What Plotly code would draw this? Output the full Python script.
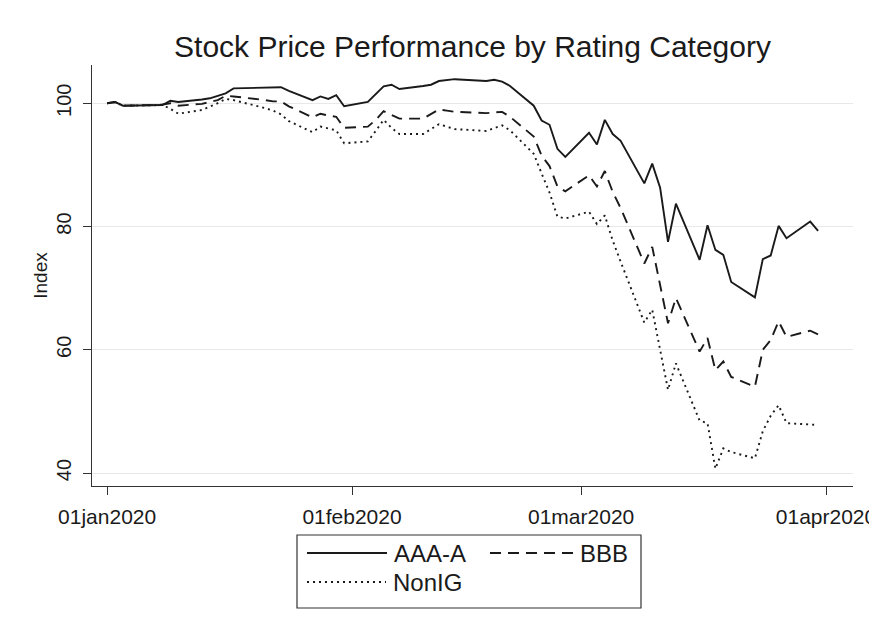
import plotly.graph_objects as go

dates = [
    "2020-01-01", "2020-01-02", "2020-01-03", "2020-01-06", "2020-01-07", "2020-01-08",
    "2020-01-09", "2020-01-10", "2020-01-13", "2020-01-14", "2020-01-15", "2020-01-16",
    "2020-01-17", "2020-01-21", "2020-01-22", "2020-01-23", "2020-01-24", "2020-01-27",
    "2020-01-28", "2020-01-29", "2020-01-30", "2020-01-31",
    "2020-02-03", "2020-02-04", "2020-02-05", "2020-02-06", "2020-02-07", "2020-02-10",
    "2020-02-11", "2020-02-12", "2020-02-13", "2020-02-14", "2020-02-18", "2020-02-19",
    "2020-02-20", "2020-02-21", "2020-02-24", "2020-02-25", "2020-02-26", "2020-02-27",
    "2020-02-28",
    "2020-03-02", "2020-03-03", "2020-03-04", "2020-03-05", "2020-03-06", "2020-03-09",
    "2020-03-10", "2020-03-11", "2020-03-12", "2020-03-13", "2020-03-16", "2020-03-17",
    "2020-03-18", "2020-03-19", "2020-03-20", "2020-03-23", "2020-03-24", "2020-03-25",
    "2020-03-26", "2020-03-27", "2020-03-30", "2020-03-31",
]

aaa_a = [
    100.0, 100.2, 99.6, 99.6, 99.7, 99.7, 100.4, 100.2, 100.6, 100.8, 101.2, 101.6,
    102.4, 102.5, 102.5, 102.6, 102.0, 100.5, 101.1, 100.7, 101.3, 99.5,
    100.2, 101.5, 102.75, 103.0, 102.3, 102.8, 103.0, 103.6, 103.7, 103.9, 103.6, 103.8,
    103.5, 102.8, 99.6, 97.2, 96.5, 92.6, 91.3,
    95.2, 93.3, 97.3, 95.0, 93.9, 87.0, 90.2, 86.3, 77.5, 83.7, 74.6, 80.2,
    76.2, 75.4, 71.0, 68.5, 74.7, 75.3, 80.1, 78.1, 80.8, 79.3,
]

bbb = [
    100.0, 100.2, 99.6, 99.6, 99.7, 99.8, 100.0, 99.6, 99.9, 100.2, 100.5, 101.2,
    101.1, 100.5, 100.3, 100.3, 99.5, 97.7, 98.3, 98.0, 97.8, 96.0,
    96.2, 97.3, 98.7, 98.1, 97.5, 97.5, 98.2, 99.0, 98.8, 98.6, 98.4, 98.5,
    98.6, 97.8, 94.6, 91.5, 89.8, 86.5, 85.7,
    88.3, 86.5, 89.0, 85.6, 83.0, 74.0, 76.7, 70.5, 64.3, 68.4, 59.7, 61.9,
    56.7, 58.1, 55.6, 54.0, 60.0, 61.6, 64.6, 62.1, 63.1, 62.5,
]

non_ig = [
    100.0, 100.2, 99.6, 99.6, 99.7, 99.7, 99.1, 98.3, 98.9, 99.4, 100.0, 100.7,
    100.5, 99.2, 98.8, 98.2, 97.1, 95.3, 96.2, 95.9, 95.6, 93.5,
    93.8, 95.5, 97.3, 96.0, 95.0, 95.0, 95.8, 96.6, 96.2, 95.8, 95.5, 95.9,
    96.4, 95.6, 91.8, 88.6, 85.5, 81.6, 81.3,
    82.4, 80.4, 81.8, 77.7, 74.3, 64.4, 66.5, 60.2, 53.5, 57.8, 48.5, 48.1,
    40.7, 44.0, 43.4, 42.4, 46.8, 49.3, 51.0, 48.1, 47.8, 47.8,
]

series_names = ["AAA-A", "BBB", "NonIG"]
x_tick_vals = ["2020-01-01", "2020-02-01", "2020-03-01", "2020-04-01"]
x_tick_text = ["01jan2020", "01feb2020", "01mar2020", "01apr2020"]
y_tick_vals = [40, 60, 80, 100]

FONT = "Liberation Sans, Arial, sans-serif"
INK = "#1a1a1a"
styles = ["solid", "11px,7px", "2px,4px"]

# The page body adds an 8px offset; size the figure to fit the window exactly.
OFF = 8
FW, FH = 877 - OFF, 631 - OFF
# plot area in window pixels
L, T, PW, PH = 92, 65, 761, 421

fig = go.Figure()
for name, vals, dash in zip(series_names, [aaa_a, bbb, non_ig], styles):
    fig.add_trace(go.Scatter(
        x=dates, y=vals, mode="lines", name=name,
        line=dict(color=INK, width=1.9, dash=dash),
        showlegend=False,
    ))

def px(xp):
    return (xp - L) / PW
def py(yp):
    return (T + PH - yp) / PH

# Manual legend box (Stata style: two columns)
shapes = [dict(type="rect", xref="paper", yref="paper",
               x0=px(297), x1=px(641), y0=py(608), y1=py(535),
               line=dict(color="#333333", width=1.2), fillcolor="white")]
legend_items = [
    (series_names[0], styles[0], 307, 387, 553),
    (series_names[1], styles[1], 490, 573, 553),
    (series_names[2], styles[2], 307, 386, 582),
]
annotations = []
for name, dash, xa, xb, yy in legend_items:
    shapes.append(dict(type="line", xref="paper", yref="paper",
                       x0=px(xa), x1=px(xb), y0=py(yy), y1=py(yy),
                       line=dict(color=INK, width=1.9, dash=dash)))
    annotations.append(dict(xref="paper", yref="paper", x=px(xb + 5), y=py(yy),
                            text=name, showarrow=False, xanchor="left",
                            yanchor="middle", font=dict(family=FONT, size=24, color=INK)))

fig.update_layout(
    width=FW, height=FH,
    margin=dict(l=L - OFF, r=FW - (L - OFF) - PW, t=T - OFF, b=FH - (T - OFF) - PH,
                autoexpand=False),
    paper_bgcolor="white", plot_bgcolor="white",
    font=dict(family=FONT, color=INK),
    title=dict(text="Stock Price Performance by Rating Category",
               x=0.5, xref="paper", xanchor="center",
               y=1 - (46 - OFF) / FH, yref="container", yanchor="middle",
               font=dict(family=FONT, size=30, color=INK)),
    shapes=shapes, annotations=annotations,
    showlegend=False,
)
fig.update_xaxes(
    type="date", range=["2019-12-30 02:00", "2020-04-04 10:00"],
    tickvals=x_tick_vals, ticktext=x_tick_text, automargin=False,
    showgrid=False, zeroline=False,
    showline=True, linecolor="#333333", linewidth=1.2,
    ticks="outside", ticklen=8, tickcolor="#333333", tickwidth=1.2,
    ticklabelstandoff=4,
    tickfont=dict(family=FONT, size=21, color=INK),
)
fig.update_yaxes(
    range=[37.9, 106.2], tickvals=y_tick_vals, automargin=False,
    showgrid=True, gridcolor="#e8e8e8", gridwidth=1.2, zeroline=False,
    showline=True, linecolor="#333333", linewidth=1.2,
    ticks="outside", ticklen=8, tickcolor="#333333", tickwidth=1.2,
    tickangle=-90, ticklabelstandoff=4,
    tickfont=dict(family=FONT, size=20, color=INK),
    title=dict(text="Index", standoff=0, font=dict(family=FONT, size=19, color=INK)),
)

fig.write_html("out.html")
